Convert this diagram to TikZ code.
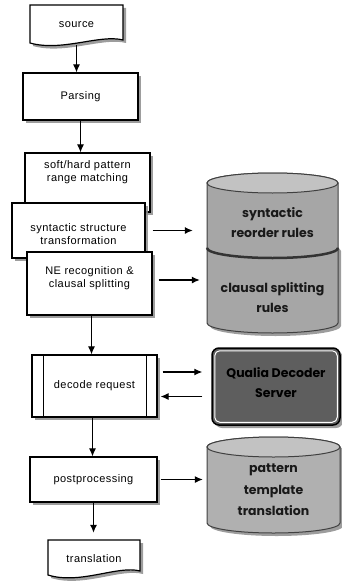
\documentclass[tikz,border=0pt]{standalone}
\usepackage{fontspec}
\setmainfont{Liberation Sans}
\newfontfamily\boxfont[LetterSpace=4]{Liberation Sans}
\newfontfamily\cylfont{Poppins}
\usetikzlibrary{arrows.meta,shadows}
\definecolor{cylbody}{HTML}{A6A6A6}
\definecolor{cyltop}{HTML}{C2C2C2}
\definecolor{cylthree}{HTML}{B0B0B0}
\definecolor{qualiafill}{HTML}{5E5E5E}
\definecolor{shadowgray}{HTML}{8C8C8C}
\begin{document}
\begin{tikzpicture}[x=1pt,y=-1pt,
  shad/.style={drop shadow={shadow xshift=3pt,shadow yshift=-3pt,fill=shadowgray,opacity=0.85}},
  procbox/.style={draw=black,line width=1.2pt,fill=white,inner sep=0pt,shad},
  boxtext/.style={font=\boxfont\fontsize{11}{13}\selectfont,align=center,inner sep=0pt},
  cyltext/.style={font=\cylfont\bfseries\fontsize{12.5}{20}\selectfont,align=center,text=black!90,inner sep=0pt},
  cylline/.style={draw=black!75,line width=1pt},
  arr/.style={line width=1.1pt,-{Latex[length=8pt,width=7pt]}}]
\useasboundingbox (0,0) rectangle (342,583);

% source document
\path[draw=black,line width=1.2pt,fill=white,shad] (30,5) -- (123,5) -- (123,40)
  .. controls (100,34) and (62,52) .. (30,43) -- cycle;
\node[boxtext,minimum width=93pt,minimum height=40pt] (source) at (76.5,25) {source};

% parsing
\node[procbox,boxtext,minimum width=115pt,minimum height=47pt] (parsing) at (80.5,96.5) {Parsing};

% stacked boxes
\node[procbox,minimum width=125pt,minimum height=59pt] (soft) at (87.5,182.5) {};
\node[boxtext] (softtext) at (87.5,172) {soft/hard pattern\\range matching};
\node[procbox,minimum width=133pt,minimum height=55pt] (syn) at (78.5,230.5) {};
\node[boxtext] (syntext) at (78.5,234) {syntactic structure\\transformation};
\node[procbox,minimum width=125pt,minimum height=63pt] (ne) at (89.5,283.5) {};
\node[boxtext] (netext) at (89.5,278) {NE recognition \&\\clausal splitting};

% decode request
\node[procbox,boxtext,minimum width=125pt,minimum height=62pt] (dec) at (94.5,386) {decode request};
\draw[line width=1.1pt] ([xshift=12pt]dec.north west) -- ([xshift=12pt]dec.south west);
\draw[line width=1.1pt] ([xshift=-11pt]dec.north east) -- ([xshift=-11pt]dec.south east);

% postprocessing
\node[procbox,boxtext,minimum width=127pt,minimum height=45pt] (post) at (93.5,479.5) {postprocessing};

% translation document
\path[draw=black,line width=1.2pt,fill=white,shad] (48,540) -- (140,540) -- (140,571)
  .. controls (118,565) and (80,585) .. (48,575) -- cycle;
\node[boxtext,minimum width=92pt,minimum height=38pt] (translation) at (94,559) {translation};

% cylinder B (clausal splitting rules), its top hidden under cylinder A
\path[cylline,fill=cylbody,shad] (207,248) -- (207,323)
  arc[start angle=180,end angle=360,x radius=65.5pt,y radius=10pt] -- (338,248)
  arc[start angle=0,end angle=180,x radius=65.5pt,y radius=10pt] -- cycle;
% cylinder A (syntactic reorder rules)
\path[cylline,fill=cylbody] (207,183) -- (207,248)
  arc[start angle=180,end angle=360,x radius=65.5pt,y radius=10pt] -- (338,183)
  arc[start angle=0,end angle=180,x radius=65.5pt,y radius=10pt] -- cycle;
\draw[black!80,line width=2.5pt] (207,248) arc[start angle=180,end angle=360,x radius=65.5pt,y radius=10pt];
\path[cylline,fill=cyltop] (272.5,183) ellipse[x radius=65.5pt,y radius=10pt];
\node[minimum width=131pt,minimum height=85pt,inner sep=0pt] (cylA) at (272.5,215.5) {};
\node[cyltext] (cylAtext) at (272.5,223) {syntactic\\reorder rules};
\node[minimum width=131pt,minimum height=78pt,inner sep=0pt] (cylB) at (272.5,294) {};
\node[cyltext] (cylBtext) at (272.5,298) {clausal splitting\\rules};

% cylinder C
\path[cylline,fill=cylthree,shad] (207,447) -- (207,523)
  arc[start angle=180,end angle=360,x radius=66.5pt,y radius=10pt] -- (340,447)
  arc[start angle=0,end angle=180,x radius=66.5pt,y radius=10pt] -- cycle;
\path[cylline,fill=cyltop] (273.5,447) ellipse[x radius=66.5pt,y radius=10pt];
\node[minimum width=133pt,minimum height=96pt,inner sep=0pt] (cylC) at (273.5,485) {};
\node[cyltext,font=\cylfont\bfseries\fontsize{12.5}{21.5}\selectfont] (cylCtext) at (273.5,490) {pattern\\template\\translation};

% Qualia Decoder Server
\node[draw=black,line width=1.5pt,fill=qualiafill,rounded corners=7pt,minimum width=128pt,minimum height=77pt,inner sep=0pt,shad] (qual) at (276,386.5) {};
\draw[white,line width=1pt,rounded corners=5pt] ([shift={(3.5pt,-3.5pt)}]qual.north west) rectangle ([shift={(-3.5pt,3.5pt)}]qual.south east);
\node[cyltext,text=black] (qualtext) at (276,383) {Qualia Decoder\\Server};

% connectors
\draw[arr] (source.south) -- (source.south |- parsing.north);
\draw[arr] (parsing.south) -- (parsing.south |- soft.north);
\draw[arr,shorten <=7pt,shorten >=14pt] (syn.east) -- (syn.east -| cylA.west);
\draw[arr,shorten <=6pt,shorten >=7pt] ([yshift=3.5pt]ne.east) -- ([yshift=3.5pt]ne.east -| cylB.west);
\draw[arr] ([xshift=2pt]ne.south) -- ([xshift=2pt]ne.south |- dec.north);
\draw[arr,shorten <=5pt,shorten >=9pt] ([yshift=14pt]dec.east) -- ([yshift=14pt]dec.east -| qual.west);
\draw[arr,shorten <=9pt,shorten >=3pt] ([yshift=-10pt]qual.west) -- ([yshift=-10pt]qual.west -| dec.east);
\draw[arr] ([xshift=-2pt]dec.south) -- ([xshift=-2pt]dec.south |- post.north);
\draw[arr,shorten <=3pt,shorten >=4pt] (post.east) -- (post.east -| cylC.west);
\draw[arr,shorten >=7pt] (post.south) -- (post.south |- translation.north);
\end{tikzpicture}
\end{document}
